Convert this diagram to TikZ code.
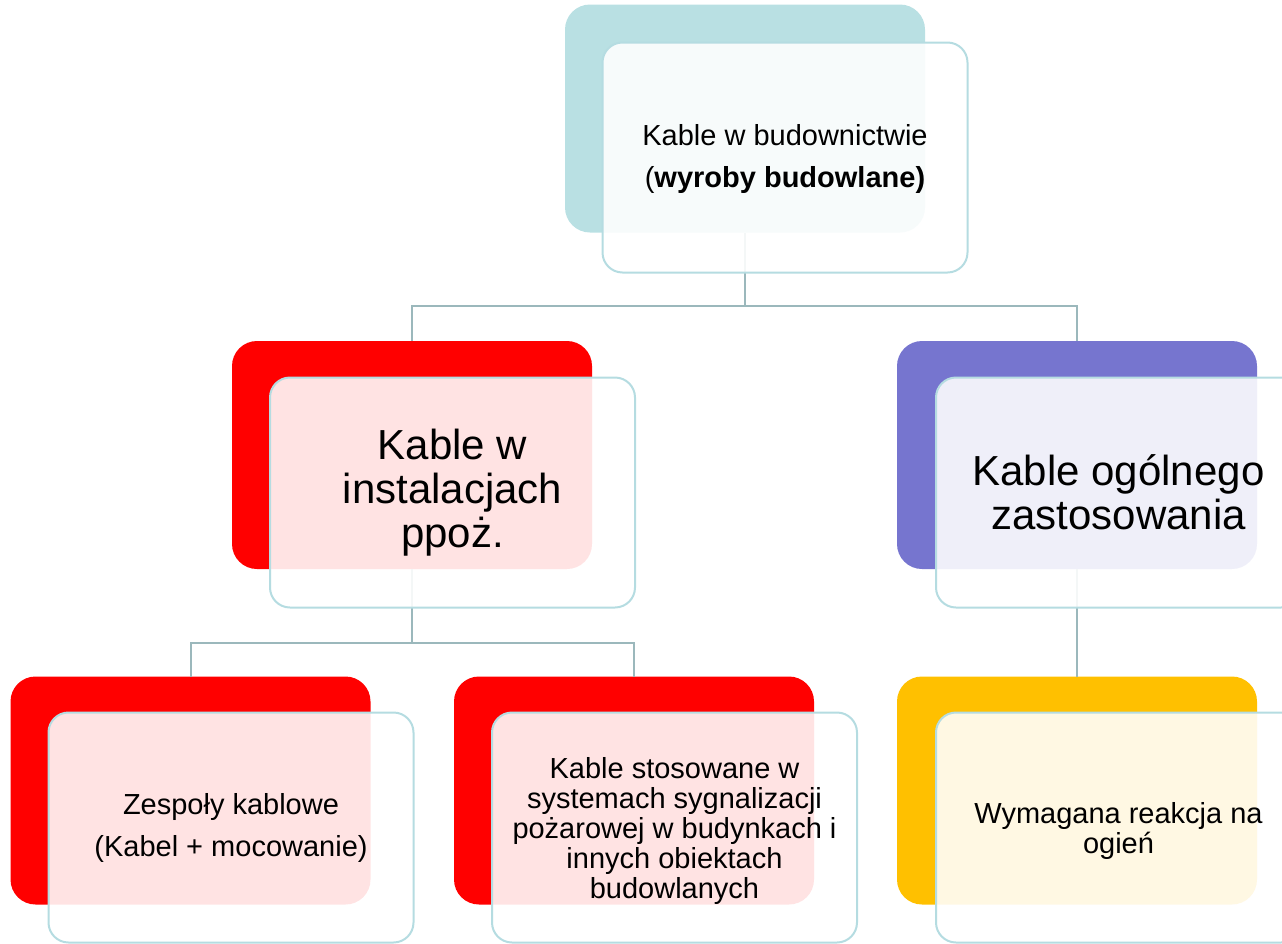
\documentclass[tikz,border=0pt]{standalone}
\usepackage{fontspec}
\setmainfont{Liberation Sans}
\definecolor{tealback}{HTML}{B9E0E3}
\definecolor{redback}{HTML}{FF0000}
\definecolor{purpleback}{HTML}{7675CF}
\definecolor{orangeback}{HTML}{FFC000}
\definecolor{frontline}{HTML}{B5DCE1}
\definecolor{connline}{HTML}{9BB8BC}
\begin{document}
\begin{tikzpicture}[x=1pt,y=-1pt,
  back/.style={rounded corners=25pt, minimum width=360pt, minimum height=228pt, inner sep=0pt, outer sep=0pt},
  front/.style={rounded corners=20pt, minimum width=365pt, minimum height=230pt, inner sep=0pt, outer sep=0pt, draw=frontline, line width=2pt, fill=white, fill opacity=0.89, text opacity=1, align=center, text=black},
  conn/.style={draw=connline, line width=2pt},
  smallwide/.style={font=\fontsize{29}{42}\selectfont},
  smalltight/.style={font=\fontsize{29}{30}\selectfont},
  big/.style={font=\fontsize{42}{44}\selectfont}]
\clip (0,0) rectangle (1282,943);
% back boxes
\node[back, fill=tealback]   (b0) at (745,118.5) {};
\node[back, fill=redback]    (b1) at (412,455) {};
\node[back, fill=purpleback] (b2) at (1077,455) {};
\node[back, fill=redback]    (b3) at (190.5,790.5) {};
\node[back, fill=redback]    (b4) at (634,790.5) {};
\node[back, fill=orangeback] (b5) at (1077,790.5) {};
% connectors
\coordinate (j0) at (745,306);
\coordinate (j1) at (412,643);
\draw[conn] (b0.south) -- (j0) -| (b1.north);
\draw[conn] (j0) -| (b2.north);
\draw[conn] (b1.south) -- (j1) -| (b3.north);
\draw[conn] (j1) -| (b4.north);
\draw[conn] (b2.south) -- (b5.north);
% front boxes
\node[front, smallwide] (f0) at (785,157.5) {\rule{0pt}{25pt}Kable w budownictwie\\(\textbf{wyroby budowlane)}};
\node[front, big] (f1) at (452.5,492.5) {Kable w\\instalacjach\\ppoż.};
\node[front, big] (f2) at (1118.5,492.5) {Kable ogólnego\\zastosowania};
\node[front, smallwide] (f3) at (231,827.5) {Zespoły kablowe\\(Kabel + mocowanie)};
\node[front, smalltight] (f4) at (674.5,827.5) {\rule{0pt}{28pt}Kable stosowane w\\systemach sygnalizacji\\pożarowej w budynkach i\\innych obiektach\\budowlanych};
\node[front, smalltight] (f5) at (1118.5,827.5) {\rule{0pt}{28pt}Wymagana reakcja na\\ogień};
\end{tikzpicture}
\end{document}
